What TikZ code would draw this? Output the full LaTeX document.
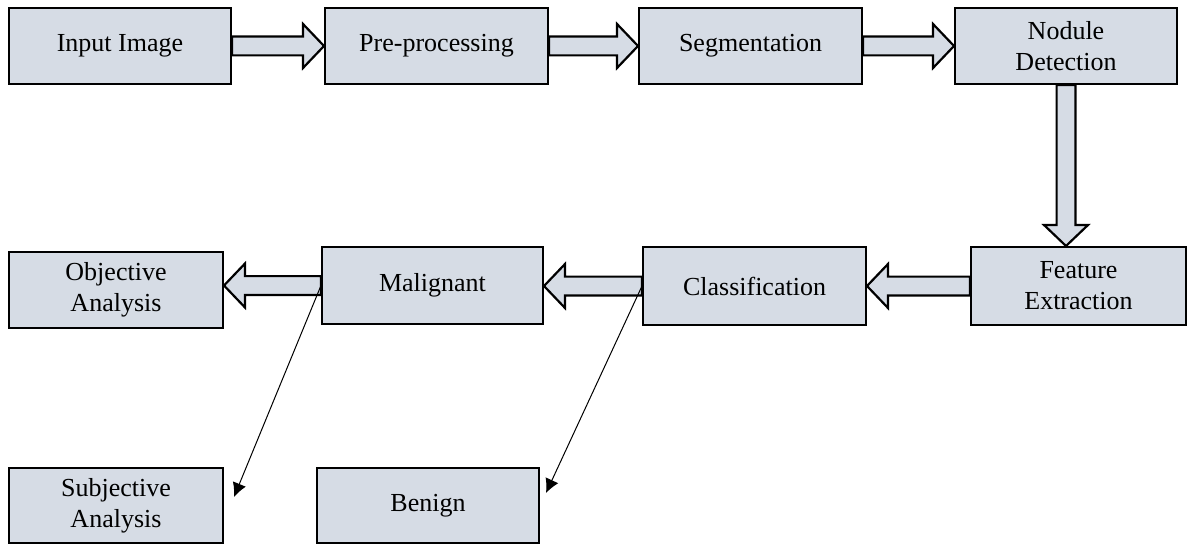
\documentclass[tikz,border=0pt]{standalone}
\usepackage{fontspec}
\setmainfont{Liberation Serif}
\usepackage{tikz}
\usetikzlibrary{calc,positioning,arrows.meta}

\definecolor{blokfill}{HTML}{D6DCE5}

\tikzset{
  blok/.style={draw, line width=1pt, fill=blokfill, align=center, inner sep=0.4mm,
    font=\fontsize{13}{15.5}\selectfont},
  fatarrow/.style={draw, line width=1.1pt, fill=blokfill, line join=miter},
  thinarrow/.style={draw, line width=0.5pt, -{Latex[length=7pt,width=7pt]}}
}

% gruba strzalka: od #1 do #2
\newcommand{\fatarrow}[2]{%
  \draw[fatarrow] ($(#1)!4.7pt!90:(#2)$) -- ($(#2)!10.5pt!(#1)!4.7pt!-90:(#1)$)
    -- ($(#2)!10.5pt!(#1)!11pt!-90:(#1)$) -- (#2)
    -- ($(#2)!10.5pt!(#1)!11pt!90:(#1)$) -- ($(#2)!10.5pt!(#1)!4.7pt!90:(#1)$)
    -- ($(#1)!4.7pt!-90:(#2)$) -- cycle;}

\begin{document}
\begin{tikzpicture}[x=0.5pt,y=-0.5pt]

\useasboundingbox (0,0) rectangle (1187,545);

% gorny rzad
\node[blok, minimum width=111pt, minimum height=38pt] (inp) at (120,46) {Input Image};
\node[blok, minimum width=111.5pt, minimum height=38pt] (pre) at (436.5,46) {Pre-processing};
\node[blok, minimum width=111.5pt, minimum height=38pt] (seg) at (750.5,46) {Segmentation};
\node[blok, minimum width=111pt, minimum height=38pt] (nod) at (1066,46) {Nodule\\Detection};

% srodkowy rzad
\node[blok, minimum width=107.5pt, minimum height=39pt] (fea) at (1078.5,286) {Feature\\Extraction};
\node[blok, minimum width=111.5pt, minimum height=39pt] (cla) at (754.5,286) {Classification};
\node[blok, minimum width=110.5pt, minimum height=38.5pt] (mal) at (432.5,285.5) {Malignant};
\node[blok, minimum width=107pt, minimum height=38pt] (obj) at (116,290) {Objective\\Analysis};

% dolny rzad
\node[blok, minimum width=107pt, minimum height=37.5pt] (sub) at (116,505.5) {Subjective\\Analysis};
\node[blok, minimum width=111pt, minimum height=37.5pt] (ben) at (428,505.5) {Benign};

\fatarrow{inp.east}{pre.west}
\fatarrow{pre.east}{seg.west}
\fatarrow{seg.east}{nod.west}
\fatarrow{nod.south}{nod.south |- fea.north}
\fatarrow{fea.west}{fea.west -| cla.east}
\fatarrow{cla.west}{cla.west -| mal.east}
\fatarrow{mal.west}{mal.west -| obj.east}

\draw[thinarrow] (mal.west) -- ($(sub.east)+(10,-8.5)$);
\draw[thinarrow] (cla.west) -- ($(ben.east)+(6,-12.5)$);

\end{tikzpicture}
\end{document}
